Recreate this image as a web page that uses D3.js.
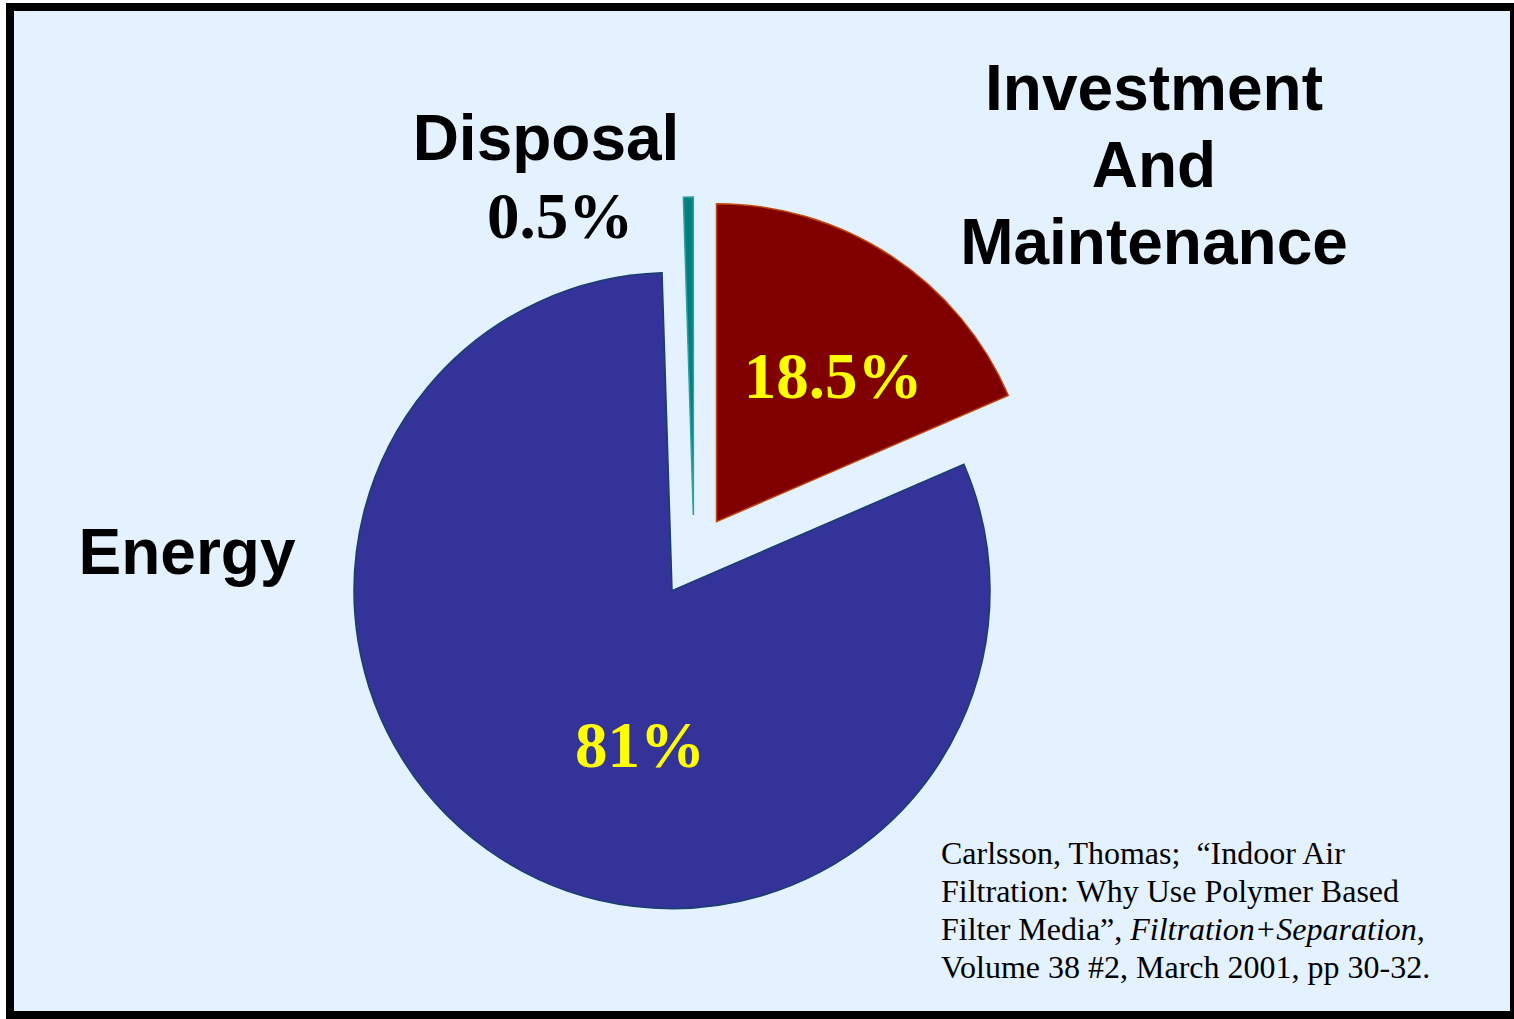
<!DOCTYPE html>
<html>
<head>
<meta charset="utf-8">
<script src="https://cdn.jsdelivr.net/npm/d3@7"></script>
<style>
  html, body { margin: 0; padding: 0; background: #ffffff; }
  svg { display: block; }
</style>
</head>
<body>
<svg id="chart" width="1514" height="1019"></svg>
<script>
// Life-cycle cost shares of an air filter
const categories = ["Investment And Maintenance", "Energy", "Disposal"];
const shares = [18.5, 81, 0.5];
const shareLabels = ["18.5%", "81%", "0.5%"];
const fills = ["#800000", "#333399", "#008080"];
const strokes = ["#c0470a", "#173f6e", "#2aa0a0"];

const svg = d3.select("#chart");
const W = 1514, H = 1019;

// Frame
svg.append("rect").attr("x", 10).attr("y", 7).attr("width", 1504).attr("height", 1008)
  .attr("fill", "#e4f1fe").attr("stroke", "#000").attr("stroke-width", 8);

const cx = 694, cy = 556, R = 318, explode = 41;

const pie = d3.pie().sort(null).value(d => d.v);
const arcs = pie(categories.map((c, i) => ({ c, v: shares[i], i })));
const arcGen = d3.arc().innerRadius(0).outerRadius(R);

const g = svg.append("g").attr("transform", `translate(${cx},${cy})`);

g.selectAll("path.slice").data(arcs).join("path")
  .attr("class", "slice")
  .attr("d", arcGen)
  .attr("transform", d => {
    const a = (d.startAngle + d.endAngle) / 2;
    return `translate(${explode * Math.sin(a)},${-explode * Math.cos(a)})`;
  })
  .attr("fill", (d, i) => fills[i])
  .attr("stroke", (d, i) => strokes[i])
  .attr("stroke-width", 1.5)
  .attr("stroke-linejoin", "miter");

const sans = "'Liberation Sans', Arial, sans-serif";
const serif = "'Liberation Serif', 'Times New Roman', serif";

function lines(x, y0, dy, arr, opts) {
  arr.forEach((t, k) => {
    svg.append("text").attr("x", x).attr("y", y0 + k * dy)
      .attr("text-anchor", opts.anchor || "middle")
      .attr("font-family", opts.family)
      .attr("font-weight", opts.weight || "bold")
      .attr("font-size", opts.size)
      .attr("fill", opts.fill || "#000")
      .text(t);
  });
}

// Category labels (bold sans)
lines(1154, 110, 77, ["Investment", "And", "Maintenance"], { family: sans, size: 64 });
lines(546, 160, 0, [categories[2].split(" ")[0]], { family: sans, size: 64 });
lines(187, 574, 0, [categories[1]], { family: sans, size: 64 });

// Value labels (bold serif)
lines(560, 238, 0, [shareLabels[2]], { family: serif, size: 65 });
lines(833, 398, 0, [shareLabels[0]], { family: serif, size: 65, fill: "#ffff00" });
lines(640, 767, 0, [shareLabels[1]], { family: serif, size: 65, fill: "#ffff00" });

// Citation
const cite = svg.append("g").attr("font-family", serif).attr("font-size", 32).attr("fill", "#000");
const citeLines = [
  [{ t: "Carlsson, Thomas;  \u201CIndoor Air" }],
  [{ t: "Filtration: Why Use Polymer Based" }],
  [{ t: "Filter Media\u201D, " }, { t: "Filtration+Separation", i: true }, { t: "," }],
  [{ t: "Volume 38 #2, March 2001, pp 30-32." }]
];
citeLines.forEach((parts, k) => {
  const tx = cite.append("text").attr("x", 941).attr("y", 864 + k * 38).attr("xml:space", "preserve");
  parts.forEach(p => {
    tx.append("tspan").attr("font-style", p.i ? "italic" : "normal").text(p.t);
  });
});
</script>
</body>
</html>
